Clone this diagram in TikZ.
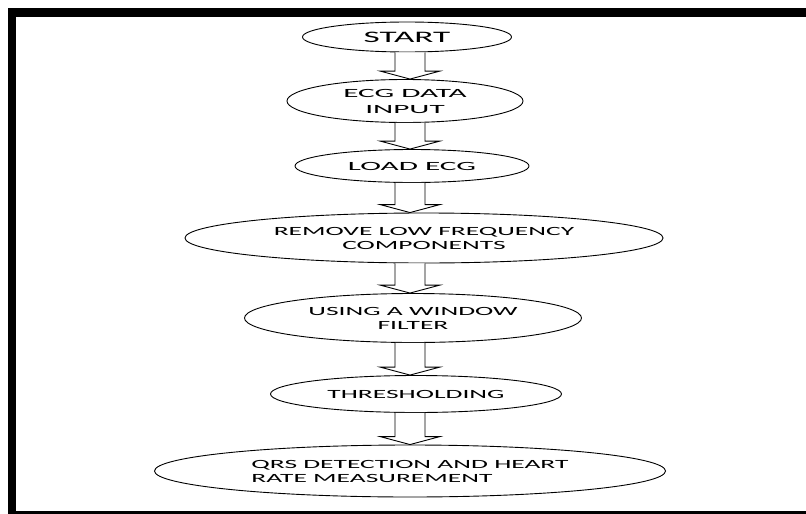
\documentclass[tikz,border=0pt]{standalone}
\usepackage{fontspec}
\setmainfont[FakeStretch=2.2]{Carlito}
\newfontfamily\widefont[FakeStretch=2.5]{Carlito}
\usetikzlibrary{shapes.geometric,calc}
\tikzset{
  stage/.style={ellipse, draw=black, line width=0.9pt, inner sep=0pt, fill=white,
    font=\fontsize{12.5}{14}\selectfont, align=center},
  widetext/.style={font=\widefont\fontsize{12.5}{16}\selectfont},
  bigtext/.style={font=\fontsize{16}{18}\selectfont},
  blockarrow/.style={draw=black, line width=0.9pt, fill=white, line join=miter},
  framebar/.style={fill=black, draw=none}
}
\newcommand\blockarr[2]{%
  \draw[blockarrow] let \p1=(#1.south -| axis), \p2=(#2.north -| axis) in
    (\x1-15pt,\y1) -- (\x1-15pt,\y2+8pt) -- (\x1-30pt,\y2+8pt) -- (\x1,\y2)
    -- (\x1+30pt,\y2+8pt) -- (\x1+15pt,\y2+8pt) -- (\x1+15pt,\y1);}
\begin{document}
\begin{tikzpicture}[x=1pt,y=-1pt]
  \useasboundingbox (0,0) rectangle (806,514);
  \fill[white] (0,0) rectangle (806,514);
  % frame
  \fill[framebar] (8,8) rectangle (806,17);
  \fill[framebar] (8,8) rectangle (16,514);
  \fill[framebar] (8,511) rectangle (806,514);
  \coordinate (axis) at (410,0);
  % stages
  \node[stage, bigtext, minimum width=209, minimum height=30] (start) at (407,37) {START};
  \node[stage, widetext, minimum width=236, minimum height=43] (input) at (405,101) {ECG DATA\\INPUT};
  \node[stage, widetext, minimum width=234, minimum height=33] (load) at (412,166) {LOAD ECG};
  \node[stage, minimum width=478, minimum height=50] (remove) at (424,238) {REMOVE LOW FREQUENCY\\COMPONENTS};
  \node[stage, minimum width=337, minimum height=49] (window) at (413,318) {USING A WINDOW\\FILTER};
  \node[stage, minimum width=291, minimum height=37] (thresh) at (416,394) {THRESHOLDING};
  \node[stage, minimum width=511, minimum height=52, align=left] (qrs) at (410,471) {QRS DETECTION AND HEART\\RATE MEASUREMENT};
  % connectors
  \blockarr{start}{input}
  \blockarr{input}{load}
  \blockarr{load}{remove}
  \blockarr{remove}{window}
  \blockarr{window}{thresh}
  \blockarr{thresh}{qrs}
\end{tikzpicture}
\end{document}
